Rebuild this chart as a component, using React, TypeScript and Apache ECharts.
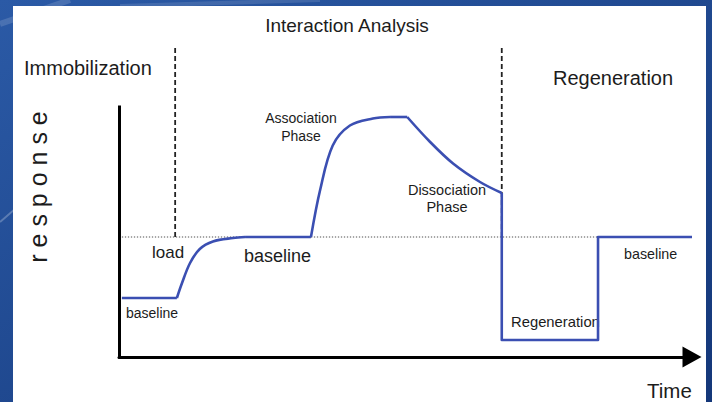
import React, { useEffect, useRef } from "react";
import * as echarts from "echarts";

// ---- data (time in arbitrary units 0..100, response in arbitrary units 0..100) ----
const immobilizationPts = [[0.5, 23.6], [10.1, 23.6]];
const loadPts = [[10.1, 23.6], [11.0, 29.6], [12.4, 37.6], [14.1, 43.2], [16.4, 46.2], [19.9, 47.6], [22.0, 48]];
const baselinePts = [[22.0, 48], [33.5, 48]];
const associationPts = [[33.5, 48], [35.1, 66.8], [37.3, 84.6], [40.3, 92.6], [44.3, 95.4], [47.3, 96]];
const plateauPts = [[47.3, 96], [50.3, 96]];
const dissociationPts = [[50.3, 96], [54.3, 86], [58.3, 77.4], [63.0, 70.0], [66.8, 65.6]];
const regenerationPts = [[66.8, 65.6], [66.8, 6.8], [83.6, 6.8], [83.6, 48], [100, 48]];
const baselineRefPts = [[0.5, 48], [83.6, 48]];
const loadMarkerPts = [[9.8, 48], [9.8, 123.6]];
const regenMarkerPts = [[66.8, 48], [66.8, 123.6]];

const CURVE = "#3b4fb2";
const FONT = "'Liberation Sans', Arial, sans-serif";
const TXT = "#1c1c1c";

function curve(data: number[][], smooth: boolean) {
  return {
    type: "line",
    data,
    showSymbol: false,
    symbol: "none",
    smooth: smooth ? 0.35 : false,
    lineStyle: { color: CURVE, width: 2.6, join: "round" },
    z: 5,
    clip: false,
  };
}

function txt(text: string, x: number, y: number, size: number, align = "left", extra: any = {}) {
  return {
    type: "text",
    x,
    y,
    style: {
      text,
      fill: TXT,
      font: `${size}px ${FONT}`,
      align,
      verticalAlign: "middle",
      ...extra,
    },
  };
}

export default function App() {
  const ref = useRef<HTMLDivElement>(null);
  useEffect(() => {
    if (!ref.current) return;
    const chart = echarts.init(ref.current, undefined, { renderer: "svg" });
    chart.setOption({
      animation: false,
      backgroundColor: {
        type: "linear",
        x: 0,
        y: 0,
        x2: 1,
        y2: 1,
        colorStops: [
          { offset: 0, color: "#2b5aa6" },
          { offset: 1, color: "#143779" },
        ],
      },
      graphic: [
        { type: "line", shape: { x1: 0, y1: 222, x2: 60, y2: 170 }, style: { stroke: "rgba(255,255,255,0.25)", lineWidth: 2 } },
        { type: "line", shape: { x1: 0, y1: 24, x2: 70, y2: 0 }, style: { stroke: "rgba(255,255,255,0.15)", lineWidth: 6 } },
        { type: "line", shape: { x1: 120, y1: 6, x2: 320, y2: 0 }, style: { stroke: "rgba(255,255,255,0.12)", lineWidth: 4 } },
        { type: "rect", shape: { x: 13, y: 6, width: 693, height: 400 }, style: { fill: "#ffffff" } },
        txt("Interaction Analysis", 347, 25, 19, "center"),
        txt("Immobilization", 24, 68, 20),
        txt("Regeneration", 553, 78, 20),
        {
          type: "text",
          x: 38,
          y: 187,
          rotation: Math.PI / 2,
          style: {
            text: "r e s p o n s e",
            fill: TXT,
            font: `25px ${FONT}`,
            align: "center",
            verticalAlign: "middle",
          },
        },
        txt("load", 152, 252, 17),
        txt("baseline", 244, 256, 18),
        txt("baseline", 126, 313, 14),
        txt("Association\nPhase", 301, 127, 14, "center", { lineHeight: 18 }),
        txt("Dissociation\nPhase", 447, 198, 14.5, "center", { lineHeight: 17 }),
        txt("Regeneration", 511, 322, 14.8),
        txt("baseline", 624, 254, 14.3),
        txt("Time", 647, 390, 20.5),
      ],
      grid: { left: 119, top: 107, width: 573, height: 250, containLabel: false },
      xAxis: {
        type: "value",
        min: 0,
        max: 100,
        axisLine: {
          show: true,
          onZero: false,
          symbol: ["none", "triangle"],
          symbolSize: [21, 19],
          lineStyle: { color: "#000", width: 3 },
        },
        axisTick: { show: false },
        axisLabel: { show: false },
        splitLine: { show: false },
      },
      yAxis: {
        type: "value",
        min: 0,
        max: 100,
        axisLine: { show: true, onZero: false, lineStyle: { color: "#000", width: 3, cap: "square" } },
        axisTick: { show: false },
        axisLabel: { show: false },
        splitLine: { show: false },
      },
      series: [
        {
          type: "line",
          data: baselineRefPts,
          symbol: "none",
          lineStyle: { color: "#8a8a8a", width: 1.3, type: [1.3, 1.7] },
          z: 3,
        },
        {
          type: "line",
          data: loadMarkerPts,
          symbol: "none",
          clip: false,
          lineStyle: { color: "#222", width: 1.8, type: [5, 3] },
          z: 3,
        },
        {
          type: "line",
          data: regenMarkerPts,
          symbol: "none",
          clip: false,
          lineStyle: { color: "#222", width: 1.8, type: [5, 3] },
          z: 3,
        },
        curve(immobilizationPts, false),
        curve(loadPts, true),
        curve(baselinePts, false),
        curve(associationPts, true),
        curve(plateauPts, false),
        curve(dissociationPts, true),
        curve(regenerationPts, false),
      ],
    });
    return () => chart.dispose();
  }, []);
  return <div ref={ref} style={{ position: "absolute", left: 0, top: 0, width: 712, height: 402 }} />;
}
